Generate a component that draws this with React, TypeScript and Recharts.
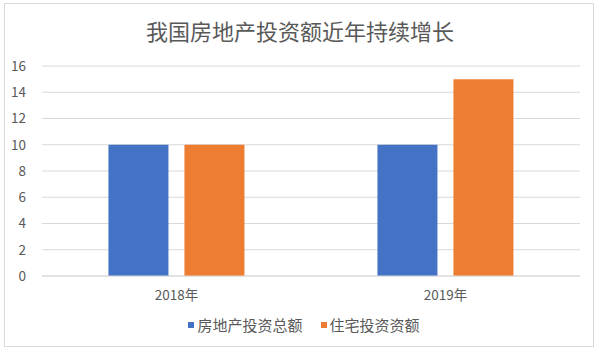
import React from "react";
import { BarChart, Bar, XAxis, YAxis, CartesianGrid } from "recharts";

const categories = ["2018年", "2019年"];
const totalInvestment = [10, 10];
const residentialInvestment = [10, 15];
const yTicks = [0, 2, 4, 6, 8, 10, 12, 14, 16];
const seriesNames = ["房地产投资总额", "住宅投资资额"];
const seriesColors = ["#4472C4", "#ED7D31"];
const title = "我国房地产投资额近年持续增长";

const data = categories.map((c, i) => ({
  name: c,
  total: totalInvestment[i],
  residential: residentialInvestment[i],
}));

const FONT = '"Noto Sans CJK SC", "Noto Sans", sans-serif';

export default function App() {
  return (
    <div style={{ position: "absolute", left: 0, top: 0, width: 600, height: 355, background: "#fff", fontFamily: FONT }}>
      <div
        style={{
          position: "absolute",
          left: 4,
          top: 3,
          width: 590,
          height: 344,
          border: "1px solid #d9d9d9",
          boxSizing: "border-box",
        }}
      />
      <div
        style={{
          position: "absolute",
          left: 0,
          top: 15,
          width: 600,
          textAlign: "center",
          fontSize: 22,
          color: "#595959",
          lineHeight: "30px",
        }}
      >
        {title}
      </div>
      <div style={{ position: "absolute", left: 0, top: 0 }}>
        <BarChart
          width={600}
          height={355}
          data={data}
          margin={{ top: 66, right: 20, bottom: 49, left: 0 }}
          barCategoryGap="24.7%"
          barGap={16}
        >
          <CartesianGrid vertical={false} stroke="#d9d9d9" strokeWidth={1} />
          <XAxis
            dataKey="name"
            axisLine={{ stroke: "#d9d9d9" }}
            tickLine={false}
            tick={{ fill: "#595959", fontSize: 13.5, fontFamily: FONT }}
            tickMargin={8}
            height={30}
          />
          <YAxis
            domain={[0, 16]}
            ticks={yTicks}
            width={42}
            axisLine={false}
            tickLine={false}
            tick={{ fill: "#595959", fontSize: 13.5, fontFamily: FONT }}
            tickMargin={10}
            interval={0}
          />
          <Bar dataKey="total" name={seriesNames[0]} fill={seriesColors[0]} isAnimationActive={false} />
          <Bar dataKey="residential" name={seriesNames[1]} fill={seriesColors[1]} isAnimationActive={false} />
        </BarChart>
      </div>
      <div
        style={{
          position: "absolute",
          left: 0,
          top: 314,
          width: 600,
          display: "flex",
          justifyContent: "center",
          paddingLeft: 8,
          boxSizing: "border-box",
          fontSize: 15,
          color: "#595959",
          lineHeight: "22px",
        }}
      >
        {seriesNames.map((n, i) => (
          <div key={n} style={{ display: "flex", alignItems: "center", marginRight: i === 0 ? 18 : 0 }}>
            <span style={{ display: "inline-block", width: 6, height: 6, background: seriesColors[i], marginRight: 3 }} />
            <span>{n}</span>
          </div>
        ))}
      </div>
    </div>
  );
}
